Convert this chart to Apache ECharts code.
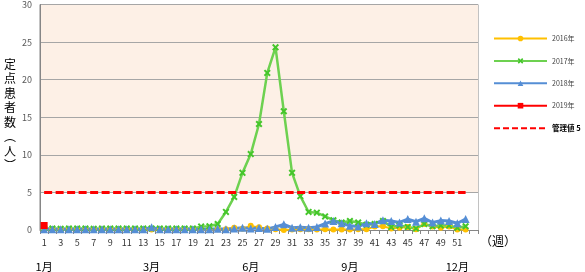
<!DOCTYPE html>
<html>
<head>
<meta charset="utf-8">
<script src="https://cdn.jsdelivr.net/npm/echarts@6/dist/echarts.min.js"></script>
<style>html,body{margin:0;padding:0;background:#fff}#c{width:585px;height:272px}</style>
</head>
<body>
<div id="c"></div>
<script>
const weeks = ['1','2','3','4','5','6','7','8','9','10','11','12','13','14','15','16','17','18','19','20','21','22','23','24','25','26','27','28','29','30','31','32','33','34','35','36','37','38','39','40','41','42','43','44','45','46','47','48','49','50','51','52','53'];
const weekTickLabels = ['1','3','5','7','9','11','13','15','17','19','21','23','25','27','29','31','33','35','37','39','41','43','45','47','49','51'];
const monthWeeks = ['1','14','26','38','51'];
const monthLabels = ['1月','3月','6月','9月','12月'];
const yTicks = [0,5,10,15,20,25,30];

const cases2016 = [0.1,0.05,0.05,0.05,0.05,0.05,0.05,0.05,0.05,0.05, 0.05,0.05,0.05,0.05,0.05,0.05,0.05,0.05,0.05,0.05, 0.1,0.1,0.1, 0.3,0.15,0.55,0.35,0.2,0.1,0.0, 0.05,0.1,0.1,0.05,0.1,0.05,0.05,0.05,0.1,0.1, 0.45,0.5,0.2,0.3,0.4,0.1,0.8,0.45,0.3,0.45, 0.05,0.05];
const cases2017 = [0.2,0.2,0.15,0.2,0.2,0.2,0.15,0.2,0.2,0.2, 0.2,0.2,0.2,0.2,0.2,0.2,0.2,0.2,0.2, 0.45,0.5,0.8,2.4,4.4,7.6,10.1,14.1,20.9,24.3,15.8, 7.6,4.5,2.4,2.3,1.8,1.3,1.0,1.2,1.0,0.7, 0.8,1.2,0.4,0.6,0.4,0.2,0.8,0.5,0.6,0.6, 0.3,0.5];
const cases2018 = [0.1,0.1,0.1,0.1,0.1,0.1,0.1,0.1,0.1,0.1, 0.1,0.1,0.1,0.35,0.1,0.1,0.1,0.1,0.1,0.1, 0.1,0.15,0.1, 0.2,0.3,0.2,0.25,0.15,0.4,0.75, 0.3,0.35,0.3,0.4,0.85,1.2,0.9,0.55,0.45,0.9, 0.8,1.3,1.2,1.0,1.45,1.1,1.55,1.0,1.25,1.2, 0.9,1.45];
const cases2019 = [0.6];
const controlValue = 5;
const controlStartWeek = '1';
const controlEndWeek = '52';

const seriesNames = ['2016年','2017年','2018年','2019年','管理値 5'];
const yAxisTitle = ['定','点','患','者','数','︵','人','︶'];
const xAxisUnit = '（週）';

const FONT = '"Noto Sans CJK JP","Noto Sans",sans-serif';
const xSymbol = 'path://M0,2 L2,0 L5,3 L8,0 L10,2 L7,5 L10,8 L8,10 L5,7 L2,10 L0,8 L3,5 Z';
const PINK = '#FDF0E6';

const chart = echarts.init(document.getElementById('c'), null, {renderer:'canvas'});
chart.setOption({
  animation: false,
  backgroundColor: '#fff',
  textStyle: {fontFamily: FONT},
  grid: {left: 40, right: 107, top: 3, bottom: 42, show: true, borderColor: '#868686', borderWidth: 1},
  legend: {
    orient: 'vertical', left: 493, top: 35, padding: 0,
    itemWidth: 53, itemHeight: 7, itemGap: 15.4,
    textStyle: {fontSize: 7, color: '#404040', fontFamily: FONT},
    data: seriesNames.map((n, i) => i === 4
      ? {name: n, itemStyle: {opacity: 0}, textStyle: {fontSize: 7.5, color: '#000', fontWeight: 'bold', fontFamily: FONT}}
      : {name: n})
  },
  graphic: [{
    type: 'text', left: 4, top: 57,
    style: {text: yAxisTitle.join('\n'), font: '12px ' + FONT, lineHeight: 14.5, fill: '#000', align: 'center'}
  }],
  xAxis: [{
    type: 'category', data: weeks, boundaryGap: true,
    axisLine: {lineStyle: {color: '#868686'}},
    axisTick: {show: true, interval: 0, length: 4, lineStyle: {color: '#868686'}},
    axisLabel: {interval: 0, fontSize: 9, color: '#333', margin: 8,
      formatter: v => weekTickLabels.includes(v) ? v : ''},
    name: xAxisUnit, nameLocation: 'end', nameGap: 2,
    nameTextStyle: {fontSize: 12, color: '#000', verticalAlign: 'top', padding: [5,0,0,0], fontFamily: FONT}
  }, {
    type: 'category', data: weeks, position: 'bottom', offset: 23,
    axisLine: {show: false}, axisTick: {show: false},
    axisLabel: {interval: 0, fontSize: 11, color: '#000', margin: 8,
      formatter: v => { const i = monthWeeks.indexOf(v); return i >= 0 ? monthLabels[i] : ''; }}
  }],
  yAxis: {
    type: 'value', min: yTicks[0], max: yTicks[yTicks.length-1], interval: 5,
    axisLine: {show: true, lineStyle: {color: '#868686'}},
    axisTick: {show: false},
    axisLabel: {fontSize: 9, color: '#595959', margin: 8},
    splitLine: {lineStyle: {color: '#A6A6A6'}},
    splitArea: {show: true, areaStyle: {color: ['#FFFFFF', PINK, PINK, PINK, PINK, PINK]}}
  },
  series: [
    {name: seriesNames[0], type: 'line', data: cases2016, symbol: 'circle', symbolSize: 6,
     lineStyle: {color: '#FFC000', width: 2}, itemStyle: {color: '#FFC000'}},
    {name: seriesNames[1], type: 'line', data: cases2017, symbol: xSymbol, symbolSize: 7,
     lineStyle: {color: '#6DD150', width: 2.5}, itemStyle: {color: '#45C62B'}},
    {name: seriesNames[2], type: 'line', data: cases2018, symbol: 'triangle', symbolSize: 8,
     lineStyle: {color: '#558ED5', width: 3}, itemStyle: {color: '#558ED5'}},
    {name: seriesNames[3], type: 'line', data: cases2019, symbol: 'rect', symbolSize: 7,
     lineStyle: {color: '#FF0000', width: 2.5}, itemStyle: {color: '#FF0000'}},
    {name: seriesNames[4], type: 'line', data: [], symbol: 'none',
     lineStyle: {color: '#FF0000', width: 2.5, type: [6, 3]}, itemStyle: {color: '#FF0000'},
     markLine: {silent: true, symbol: 'none', label: {show: false},
       lineStyle: {color: '#FF0000', width: 3, type: [8, 3.5]},
       data: [[{coord: [controlStartWeek, controlValue]}, {coord: [controlEndWeek, controlValue]}]]}
    }
  ]
});
</script>
</body>
</html>
